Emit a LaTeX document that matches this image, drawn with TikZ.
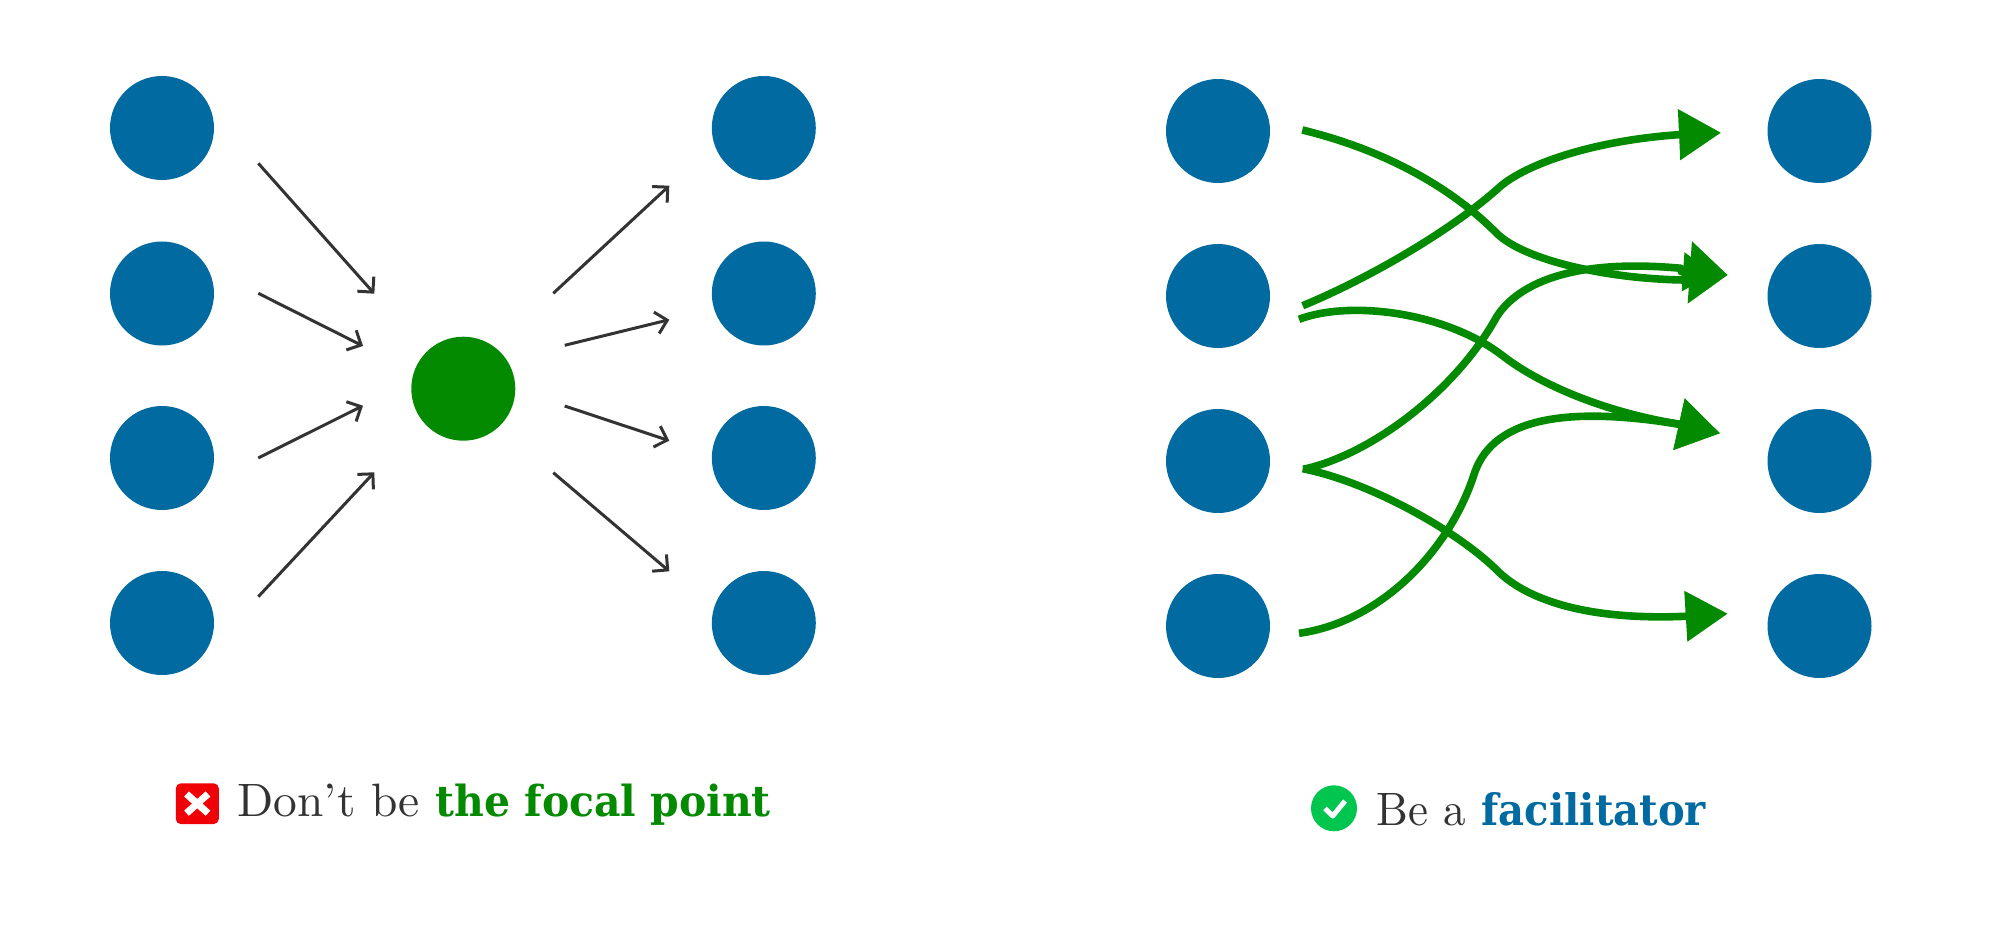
\documentclass[tikz,border=0pt]{standalone}
\usepackage{fontspec}
\usepackage{graphicx}
\usetikzlibrary{arrows.meta}
\newfontfamily\slabfont{DejaVu Serif}
\definecolor{dotblue}{HTML}{006AA1}
\definecolor{focalgreen}{HTML}{038A00}
\definecolor{inkgrey}{HTML}{333333}
\definecolor{crossred}{HTML}{EE0006}
\definecolor{checkgreen}{HTML}{00C64F}
\tikzset{
  dot/.style={circle,fill=dotblue,draw=none,minimum size=104pt,inner sep=0pt},
  focal/.style={circle,fill=focalgreen,draw=none,minimum size=104pt,inner sep=0pt},
  thinarrow/.style={draw=inkgrey,line width=3pt,-{Straight Barb[length=11pt,width=22pt,line width=3pt]}},
  flow/.style={draw=focalgreen,line width=7.6pt,line join=round},
  caption/.style={anchor=base west,inner sep=0pt,outer sep=0pt},
}
\begin{document}
\begin{tikzpicture}[x=1pt,y=-1pt]
\path[use as bounding box] (0,0) rectangle (2014,928);

% left group
\node[dot] (l1) at (162,128) {};
\node[dot] (l2) at (162,293.5) {};
\node[dot] (l3) at (162,458) {};
\node[dot] (l4) at (162,623) {};
\node[dot] (r1) at (763.8,128) {};
\node[dot] (r2) at (763.8,293.5) {};
\node[dot] (r3) at (763.8,458) {};
\node[dot] (r4) at (763.8,623) {};
\node[focal] (hub) at (463.3,388.7) {};

\coordinate (a1s) at (258.3,163.3); \coordinate (a1e) at (374.3,293.7);
\coordinate (a2s) at (258.3,293.3); \coordinate (a2e) at (363,346);
\coordinate (a3s) at (258.3,458);   \coordinate (a3e) at (363,405.7);
\coordinate (a4s) at (258.3,596.7); \coordinate (a4e) at (374.3,472.3);
\coordinate (b1s) at (553.3,293.3); \coordinate (b1e) at (669.3,185.7);
\coordinate (b2s) at (564.7,345.3); \coordinate (b2e) at (669.3,319.7);
\coordinate (b3s) at (564.7,406);   \coordinate (b3e) at (669.3,440.7);
\coordinate (b4s) at (553.3,472.7); \coordinate (b4e) at (669.3,571.3);
\foreach \n in {a1,a2,a3,a4,b1,b2,b3,b4}{\draw[thinarrow] (\n s) -- (\n e);}

% right group
\node[dot] (m1) at (1218,131) {};
\node[dot] (m2) at (1218,296) {};
\node[dot] (m3) at (1218,461) {};
\node[dot] (m4) at (1218,626) {};
\node[dot] (t1) at (1819.5,131) {};
\node[dot] (t2) at (1819.5,296) {};
\node[dot] (t3) at (1819.5,461) {};
\node[dot] (t4) at (1819.5,626) {};

\coordinate (tipA) at (1727.7,275);
\coordinate (tipD) at (1714,274);
\coordinate (tipB) at (1721,132.7);
\coordinate (tipC) at (1720,433.3);
\coordinate (tipF) at (1727.7,613.7);

% top row 1 down to row 2
\draw[flow,-{Triangle[length=38pt,width=60.7pt]}] (1302.3,130)
  .. controls (1377,148) and (1447,183) .. (1496.7,233.3)
  .. controls (1525,261) and (1610,279) .. (1684,280)
  -- (1688,272.3) -- (tipA);
% row 3 up to row 2
\draw[flow,-{Triangle[length=31pt,width=37pt]}] (1303.3,469.3)
  .. controls (1370,455) and (1455,392) .. (1496.7,316.7)
  .. controls (1517,285) and (1570,258) .. (1681,268.3)
  -- (1681.3,271.7) -- (tipD);
% row 2 up to row 1
\draw[flow,-{Triangle[length=42pt,width=49.3pt]}] (1302.7,305.7)
  .. controls (1365,280) and (1450,232) .. (1500,186.7)
  .. controls (1525,165) and (1590,141) .. (1678.3,134.7)
  -- (tipB);
% row 2 down to row 3
\draw[flow,-{Triangle[length=42pt,width=50.8pt]}] (1299,319.3)
  .. controls (1350,300) and (1445,312) .. (1501.7,355)
  .. controls (1540,385) and (1605,412) .. (1678,424)
  -- (tipC);
% row 4 up to row 3
\draw[flow,-{Triangle[length=42pt,width=50.8pt]}] (1299,633.3)
  .. controls (1380,622) and (1448,552) .. (1473.3,476.7)
  .. controls (1490,420) and (1560,405) .. (1678,424)
  -- (tipC);
% row 3 down to row 4
\draw[flow,-{Triangle[length=42pt,width=49pt]}] (1302.7,468.7)
  .. controls (1370,482) and (1455,530) .. (1495,568.3)
  .. controls (1530,605) and (1600,620) .. (1685,616.3)
  -- (tipF);

% left caption
\node[fill=crossred,draw=none,rounded corners=5pt,minimum width=43pt,minimum height=40.7pt,inner sep=0pt] (crossbox) at (197.3,803.7) {};
\draw[white,line width=7pt] (186.5,794) -- (208,813.2);
\draw[white,line width=7pt] (208,794) -- (186.5,813.2);
\node[caption,text=inkgrey] (dont) at (237.5,816.7) {\resizebox{182.5pt}{32.5pt}{Don't be}};
\node[caption,text=focalgreen] (focaltext) at (435.4,816.7) {\resizebox{335.4pt}{32.5pt}{\slabfont\bfseries the focal point}};

% right caption
\node[circle,fill=checkgreen,draw=none,minimum size=46pt,inner sep=0pt] (checkdot) at (1334,808.3) {};
\draw[white,line width=5pt,line join=round] (1325,808.3) -- (1332.7,816) -- (1345,801);
\node[caption,text=inkgrey] (bea) at (1376.7,825) {\resizebox{89.3pt}{32pt}{Be a}};
\node[caption,text=dotblue] (facil) at (1481.7,825) {\resizebox{224.3pt}{33pt}{\slabfont\bfseries facilitator}};
\end{tikzpicture}
\end{document}
